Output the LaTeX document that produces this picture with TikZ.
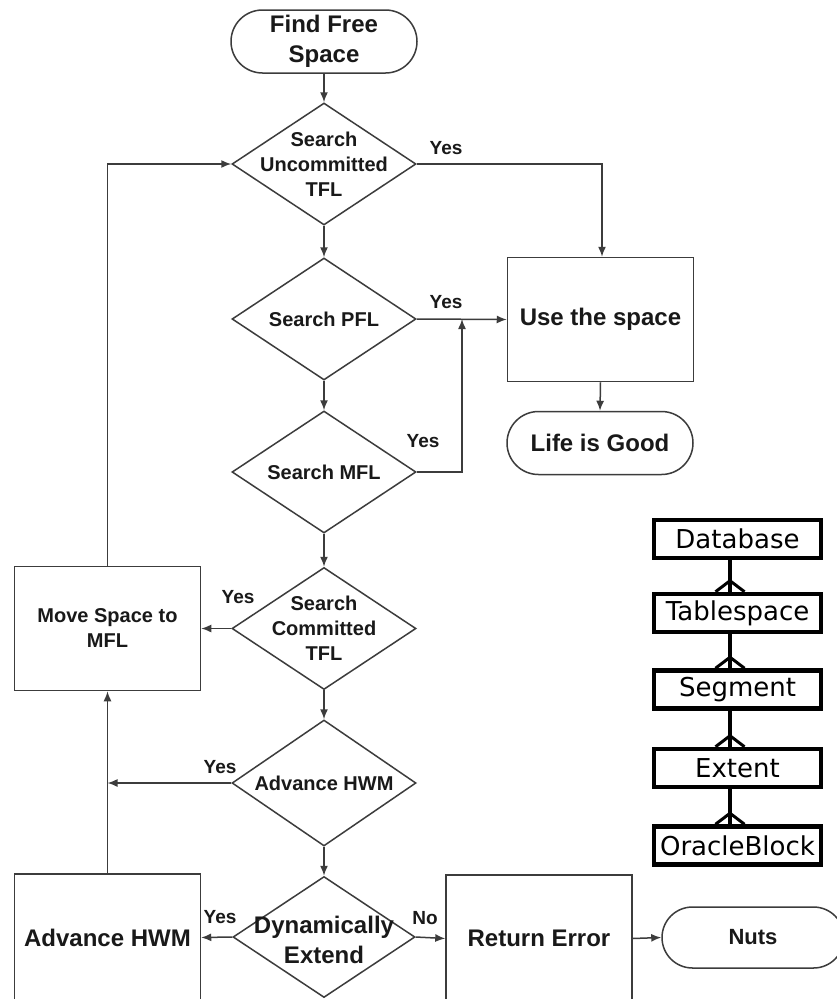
\documentclass[tikz,border=0pt]{standalone}
\usepackage{fontspec}
\setmainfont{Liberation Sans}
\newfontfamily\lgfont{DejaVu Sans}
\usetikzlibrary{shapes.geometric,shapes.misc,arrows.meta}
\definecolor{lc}{RGB}{60,60,60}
\definecolor{tc}{RGB}{25,25,25}
\begin{document}
\begin{tikzpicture}[x=1pt,y=-1pt,
  fc/.style={draw=lc, line width=1.5pt},
  arr/.style={fc, -{Latex[length=10pt,width=8pt]}},
  small/.style={font=\fontsize{20}{25}\selectfont\bfseries, text=tc, align=center},
  large/.style={font=\fontsize{24}{30}\selectfont\bfseries, text=tc, align=center},
  dia/.style={fc, diamond, inner sep=0pt, minimum width=184pt, minimum height=122pt},
  term/.style={fc, rounded rectangle, inner sep=0pt, minimum width=186pt, minimum height=63pt},
  procbox/.style={fc, rectangle, inner sep=0pt, minimum width=186pt, minimum height=124pt},
  lbl/.style={font=\fontsize{19}{22}\selectfont\bfseries, text=tc, inner sep=0pt},
  lg/.style={draw=black, line width=4.5pt, rectangle, inner sep=0pt, minimum width=167pt, minimum height=38pt, font=\lgfont\fontsize{26}{28}\selectfont},
  lgline/.style={draw=black, line width=4pt},
  foot/.style={draw=black, line width=3pt}
]
\useasboundingbox (0,0) rectangle (837,999);
\clip (0,0) rectangle (837,999);
\fill[white] (0,0) rectangle (837,999);

% flowchart nodes
\node[term, large] (find) at (324,41.5) {Find Free\\Space};
\node[dia, label={[small]center:Search\\Uncommitted\\TFL}] (d1) at (324,164) {};
\node[dia, label={[small]center:Search PFL}] (d2) at (324,319) {};
\node[dia, label={[small]center:Search MFL}] (d3) at (324,472) {};
\node[dia, label={[small]center:Search\\Committed\\TFL}] (d4) at (324,628.5) {};
\node[dia, minimum height=126pt, label={[small]center:Advance HWM}] (d5) at (324,783) {};
\node[dia, minimum height=121pt, minimum width=182pt, label={[large, yshift=-3pt]center:Dynamically\\Extend}] (d6) at (324,937) {};

\node[procbox, large] (use) at (600.5,319.5) {Use the space};
\node[term, large] (life) at (600,443) {Life is Good};
\node[procbox, small] (move) at (107.5,628.5) {Move Space to\\MFL};
\node[procbox, large, minimum height=127pt] (adv) at (107.5,937.5) {Advance HWM};
\node[procbox, large, minimum height=127pt] (ret) at (539,938.5) {Return Error};
\node[term, font=\fontsize{22}{26}\selectfont\bfseries, text=tc, minimum width=182pt, minimum height=61pt] (nuts) at (753,937.5) {Nuts};

% labels
\node[lbl] (y1) at (446,148) {Yes};
\node[lbl] (y2) at (446,302) {Yes};
\node[lbl] (y3) at (423,441) {Yes};
\node[lbl] (y4) at (238,597) {Yes};
\node[lbl] (y5) at (220,767) {Yes};
\node[lbl] (y6) at (220,917) {Yes};
\node[lbl] (n6) at (425,918) {No};

% junction coordinates
\coordinate (j1) at (462,319);
\coordinate (j2) at (107.5,783);

% connectors
\draw[arr] (find.south) -- (d1.north);
\draw[arr] (d1.south) -- (d2.north);
\draw[arr] (d2.south) -- (d3.north);
\draw[arr] (d3.south) -- (d4.north);
\draw[arr] (d4.south) -- (d5.north);
\draw[arr] (d5.south) -- (d6.north);
\draw[arr] (d1.east) -| ([xshift=1.5pt]use.north);
\draw[arr] (d2.east) -- (use.west);
\draw[arr] (d3.east) -| (j1);
\draw[arr] (use.south) -- (life.north);
\draw[arr] (d4.west) -- (move.east);
\draw[arr] (move.north) |- (d1.west);
\draw[arr] (d5.west) -- (j2);
\draw[arr] (adv.north) -- (move.south);
\draw[arr] (d6.west) -- (adv.east);
\draw[arr] (d6.east) -- (ret.west);
\draw[arr] (ret.east) -- (nuts.west);

% legend
\node[lg] (db) at (737.5,539) {Database};
\node[lg] (ts) at (737.5,613) {Tablespace};
\node[lg] (sg) at (737.5,689.5) {Segment};
\node[lg] (ex) at (737.5,768) {Extent};
\node[lg] (ob) at (737.5,845.5) {OracleBlock};

\foreach \a/\b in {db/ts, ts/sg, sg/ex, ex/ob}{
  \draw[lgline] ([xshift=-7.5pt]\a.south) -- ([xshift=-7.5pt]\b.north);
  \draw[foot] ([xshift=-22pt]\b.north) -- ([xshift=-7.5pt, yshift=11pt]\b.north) -- ([xshift=7pt]\b.north);
}
\end{tikzpicture}
\end{document}
